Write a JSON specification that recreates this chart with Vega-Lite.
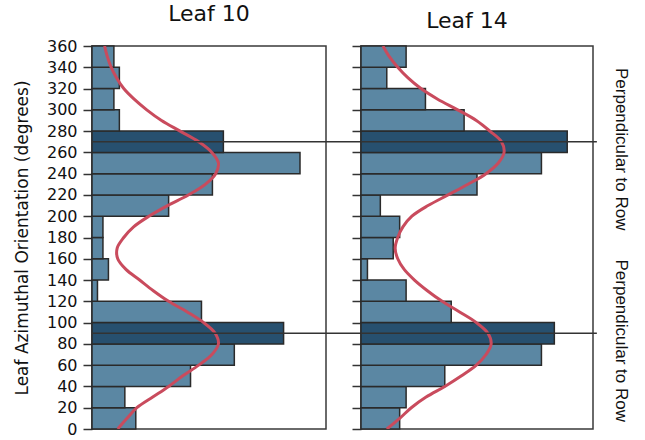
{
  "$schema": "https://vega.github.io/schema/vega-lite/v6.json",
  "padding": {"left": 12, "top": 2, "right": 5, "bottom": 5},
  "background": "white",
  "bounds": "flush",
  "spacing": 35,
  "config": {
    "view": {"stroke": "#3a3a3a", "strokeWidth": 1.5},
    "font": "DejaVu Sans",
    "title": {"fontSize": 22, "fontWeight": "normal", "font": "DejaVu Sans", "color": "#111", "offset": 12},
    "axis": {"grid": false, "domainColor": "#333", "domainWidth": 1.5, "tickColor": "#333", "tickWidth": 1.5, "tickSize": 9, "labelFont": "DejaVu Sans", "labelFontSize": 16, "labelColor": "#111", "labelPadding": 6, "labelOverlap": false, "labelSeparation": 0, "titleFont": "DejaVu Sans", "titleFontSize": 17, "titleFontWeight": "normal", "titleColor": "#111"}
  },
  "datasets": {
    "bars10": [
      {"start": 0, "end": 20, "count": 8, "shade": "light"},
      {"start": 20, "end": 40, "count": 6, "shade": "light"},
      {"start": 40, "end": 60, "count": 18, "shade": "light"},
      {"start": 60, "end": 80, "count": 26, "shade": "light"},
      {"start": 80, "end": 100, "count": 35, "shade": "dark"},
      {"start": 100, "end": 120, "count": 20, "shade": "light"},
      {"start": 120, "end": 140, "count": 1, "shade": "light"},
      {"start": 140, "end": 160, "count": 3, "shade": "light"},
      {"start": 160, "end": 180, "count": 2, "shade": "light"},
      {"start": 180, "end": 200, "count": 2, "shade": "light"},
      {"start": 200, "end": 220, "count": 14, "shade": "light"},
      {"start": 220, "end": 240, "count": 22, "shade": "light"},
      {"start": 240, "end": 260, "count": 38, "shade": "light"},
      {"start": 260, "end": 280, "count": 24, "shade": "dark"},
      {"start": 280, "end": 300, "count": 5, "shade": "light"},
      {"start": 300, "end": 320, "count": 4, "shade": "light"},
      {"start": 320, "end": 340, "count": 5, "shade": "light"},
      {"start": 340, "end": 360, "count": 4, "shade": "light"}
    ],
    "bars14": [
      {"start": 0, "end": 20, "count": 6, "shade": "light"},
      {"start": 20, "end": 40, "count": 7, "shade": "light"},
      {"start": 40, "end": 60, "count": 13, "shade": "light"},
      {"start": 60, "end": 80, "count": 28, "shade": "light"},
      {"start": 80, "end": 100, "count": 30, "shade": "dark"},
      {"start": 100, "end": 120, "count": 14, "shade": "light"},
      {"start": 120, "end": 140, "count": 7, "shade": "light"},
      {"start": 140, "end": 160, "count": 1, "shade": "light"},
      {"start": 160, "end": 180, "count": 5, "shade": "light"},
      {"start": 180, "end": 200, "count": 6, "shade": "light"},
      {"start": 200, "end": 220, "count": 3, "shade": "light"},
      {"start": 220, "end": 240, "count": 18, "shade": "light"},
      {"start": 240, "end": 260, "count": 28, "shade": "light"},
      {"start": 260, "end": 280, "count": 32, "shade": "dark"},
      {"start": 280, "end": 300, "count": 16, "shade": "light"},
      {"start": 300, "end": 320, "count": 10, "shade": "light"},
      {"start": 320, "end": 340, "count": 4, "shade": "light"},
      {"start": 340, "end": 360, "count": 7, "shade": "light"}
    ],
    "curve10": [
      {"deg": 0, "dens": 4.7}, {"deg": 10, "dens": 6.4}, {"deg": 20, "dens": 8.2}, {"deg": 30, "dens": 11.1},
      {"deg": 40, "dens": 14.0}, {"deg": 50, "dens": 16.6}, {"deg": 60, "dens": 19.5}, {"deg": 70, "dens": 21.9},
      {"deg": 80, "dens": 23.1}, {"deg": 90, "dens": 22.5}, {"deg": 100, "dens": 20.4}, {"deg": 110, "dens": 17.4},
      {"deg": 120, "dens": 14.0}, {"deg": 130, "dens": 11.2}, {"deg": 140, "dens": 8.7}, {"deg": 150, "dens": 6.2},
      {"deg": 160, "dens": 4.7}, {"deg": 170, "dens": 4.6}, {"deg": 180, "dens": 5.8}, {"deg": 190, "dens": 7.6},
      {"deg": 200, "dens": 10.4}, {"deg": 210, "dens": 13.8}, {"deg": 220, "dens": 17.6}, {"deg": 230, "dens": 20.7},
      {"deg": 240, "dens": 22.6}, {"deg": 250, "dens": 23.1}, {"deg": 260, "dens": 21.9}, {"deg": 270, "dens": 19.5},
      {"deg": 280, "dens": 16.1}, {"deg": 290, "dens": 12.7}, {"deg": 300, "dens": 10.0}, {"deg": 310, "dens": 7.7},
      {"deg": 320, "dens": 5.8}, {"deg": 330, "dens": 4.5}, {"deg": 340, "dens": 3.5}, {"deg": 350, "dens": 2.8},
      {"deg": 360, "dens": 2.3}
    ],
    "curve14": [
      {"deg": 0, "dens": 4.0}, {"deg": 10, "dens": 6.0}, {"deg": 20, "dens": 7.8}, {"deg": 30, "dens": 10.1},
      {"deg": 40, "dens": 13.0}, {"deg": 50, "dens": 15.6}, {"deg": 60, "dens": 17.9}, {"deg": 70, "dens": 19.4},
      {"deg": 80, "dens": 20.2}, {"deg": 90, "dens": 19.7}, {"deg": 100, "dens": 17.9}, {"deg": 110, "dens": 15.3},
      {"deg": 120, "dens": 12.6}, {"deg": 130, "dens": 10.3}, {"deg": 140, "dens": 8.3}, {"deg": 150, "dens": 6.7},
      {"deg": 160, "dens": 5.7}, {"deg": 170, "dens": 5.3}, {"deg": 180, "dens": 5.7}, {"deg": 190, "dens": 6.5},
      {"deg": 200, "dens": 7.9}, {"deg": 210, "dens": 10.4}, {"deg": 220, "dens": 13.5}, {"deg": 230, "dens": 16.6},
      {"deg": 240, "dens": 19.4}, {"deg": 250, "dens": 21.3}, {"deg": 260, "dens": 22.2}, {"deg": 270, "dens": 21.8},
      {"deg": 280, "dens": 20.0}, {"deg": 290, "dens": 17.9}, {"deg": 300, "dens": 15.0}, {"deg": 310, "dens": 11.9},
      {"deg": 320, "dens": 9.3}, {"deg": 330, "dens": 7.3}, {"deg": 340, "dens": 5.7}, {"deg": 350, "dens": 4.4},
      {"deg": 360, "dens": 3.4}
    ],
    "perp": [{"deg": 90}, {"deg": 270}]
  },
  "hconcat": [
    {
      "width": 234,
      "height": 383,
      "title": {"text": "Leaf 10"},
      "resolve": {"axis": {"y": "independent"}},
      "layer": [
        {
          "data": {"name": "bars10"},
          "mark": {"type": "bar", "stroke": "#2a2a2a", "strokeWidth": 1.5},
          "encoding": {
            "y": {"field": "start", "type": "quantitative", "scale": {"domain": [0, 360], "nice": false},
              "axis": {"values": [0, 20, 40, 60, 80, 100, 120, 140, 160, 180, 200, 220, 240, 260, 280, 300, 320, 340, 360], "labelOverlap": false, "labelFlush": false, "labelBound": false, "labelSeparation": 0, "title": "Leaf Azimuthal Orientation (degrees)", "titlePadding": 15}},
            "y2": {"field": "end"},
            "x": {"field": "count", "type": "quantitative", "scale": {"domain": [0, 42.75], "nice": false, "zero": true}, "axis": null},
            "x2": {"datum": 0},
            "color": {"field": "shade", "type": "nominal", "scale": {"domain": ["light", "dark"], "range": ["#5b87a3", "#27506f"]}, "legend": null}
          }
        },
        {
          "data": {"name": "curve10"},
          "mark": {"type": "line", "color": "#c94b5d", "strokeWidth": 3, "interpolate": "catmull-rom", "clip": true},
          "encoding": {
            "y": {"field": "deg", "type": "quantitative", "scale": {"domain": [0, 360], "nice": false}, "axis": null},
            "x": {"field": "dens", "type": "quantitative", "scale": {"domain": [0, 42.75], "nice": false}},
            "order": {"field": "deg"}
          }
        },
        {
          "data": {"name": "perp"},
          "mark": {"type": "rule", "color": "#333", "strokeWidth": 1.3, "clip": false},
          "encoding": {
            "y": {"field": "deg", "type": "quantitative", "scale": {"domain": [0, 360], "nice": false}, "axis": null},
            "x": {"datum": 0, "type": "quantitative", "scale": {"domain": [0, 42.75], "nice": false}},
            "x2": {"datum": 49.15}
          }
        }
      ]
    },
    {
      "width": 232,
      "height": 383,
      "title": {"text": "Leaf 14", "dx": -10},
      "resolve": {"axis": {"y": "independent"}},
      "layer": [
        {
          "data": {"name": "bars14"},
          "mark": {"type": "bar", "stroke": "#2a2a2a", "strokeWidth": 1.5},
          "encoding": {
            "y": {"field": "start", "type": "quantitative", "scale": {"domain": [0, 360], "nice": false},
              "axis": {"values": [0, 20, 40, 60, 80, 100, 120, 140, 160, 180, 200, 220, 240, 260, 280, 300, 320, 340, 360], "labels": false, "title": null}},
            "y2": {"field": "end"},
            "x": {"field": "count", "type": "quantitative", "scale": {"domain": [0, 36], "nice": false, "zero": true}, "axis": null},
            "x2": {"datum": 0},
            "color": {"field": "shade", "type": "nominal", "scale": {"domain": ["light", "dark"], "range": ["#5b87a3", "#27506f"]}, "legend": null}
          }
        },
        {
          "data": {"name": "curve14"},
          "mark": {"type": "line", "color": "#c94b5d", "strokeWidth": 3, "interpolate": "catmull-rom", "clip": true},
          "encoding": {
            "y": {"field": "deg", "type": "quantitative", "scale": {"domain": [0, 360], "nice": false}, "axis": null},
            "x": {"field": "dens", "type": "quantitative", "scale": {"domain": [0, 36], "nice": false}},
            "order": {"field": "deg"}
          }
        },
        {
          "data": {"name": "perp"},
          "mark": {"type": "rule", "color": "#333", "strokeWidth": 1.3, "clip": false},
          "encoding": {
            "y": {"field": "deg", "type": "quantitative", "scale": {"domain": [0, 360], "nice": false},
              "axis": {"orient": "right", "values": [90, 270], "labelExpr": "'Perpendicular to Row'", "labelAngle": 90, "labelAlign": "center", "labelBaseline": "middle", "labelFont": "Liberation Sans", "labelFontSize": 17, "labelPadding": 27, "labelOffset": 7, "ticks": false, "tickSize": 0, "domain": false, "labelOverlap": false, "labelFlush": false, "labelBound": false, "title": null}},
            "x": {"datum": 0, "type": "quantitative", "scale": {"domain": [0, 36], "nice": false}},
            "x2": {"datum": 36.6}
          }
        }
      ]
    }
  ]
}
